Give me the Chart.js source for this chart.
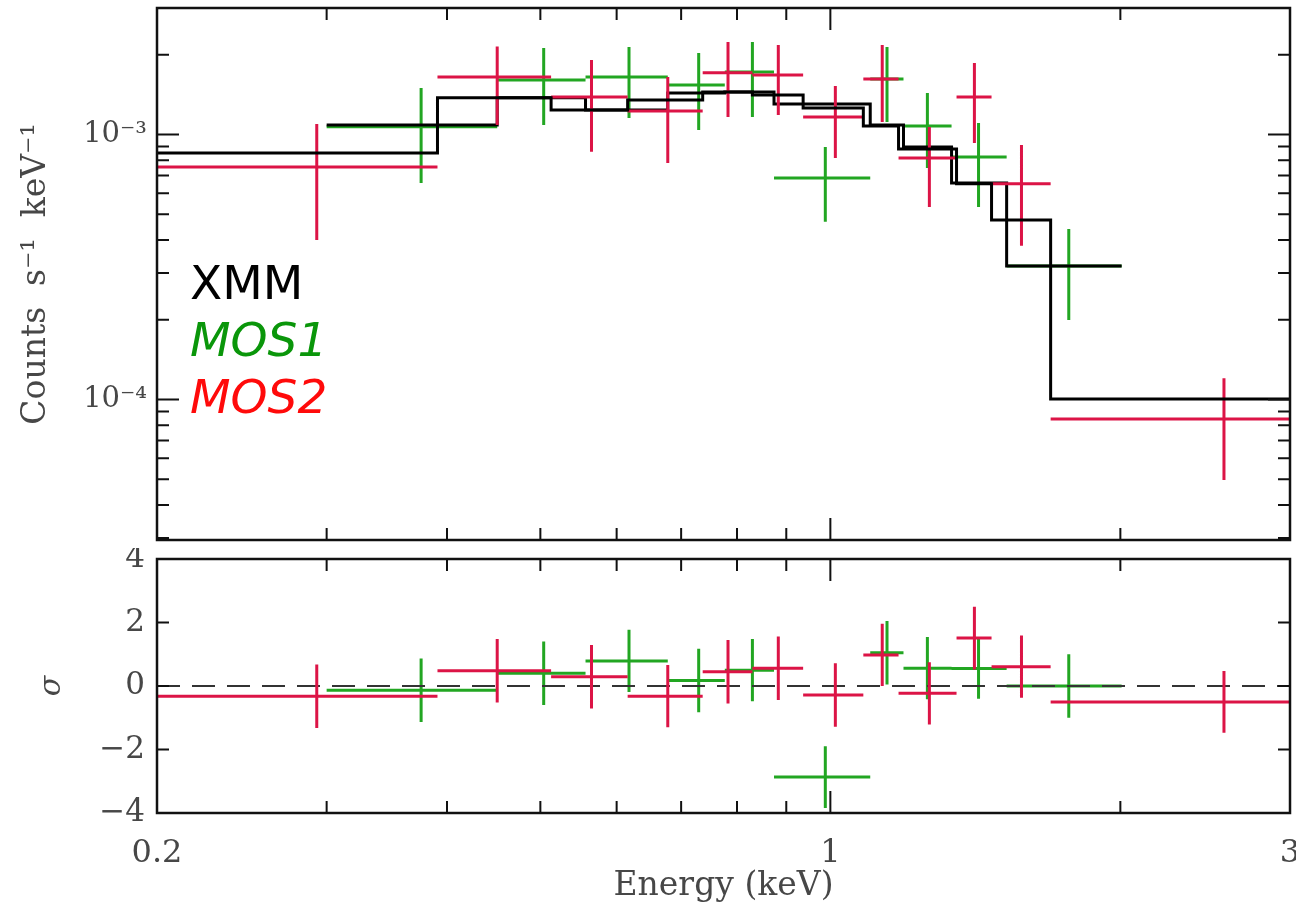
<!DOCTYPE html>
<html lang="en">
<head>
<meta charset="utf-8">
<title>XMM MOS1 / MOS2 spectrum</title>
<script src="https://cdn.jsdelivr.net/npm/chart.js@4.4.1/dist/chart.umd.min.js"></script>
<style>
  html, body { margin: 0; padding: 0; background: #fff; overflow: hidden; }
  #wrap { position: relative; width: 1296px; height: 918px; overflow: hidden; }
  #specChart { position: absolute; left: 0; top: 0; }
  #residChart { position: absolute; left: 0; top: 548px; }
</style>
</head>
<body>
<div id="wrap">
  <canvas id="specChart" width="1296" height="548"></canvas>
  <canvas id="residChart" width="1296" height="370"></canvas>
</div>
<script>
// MOS2 (red): bin edges, bin centre (keV), counts s^-1 keV^-1 with error range
const mos2Lo = [0.200, 0.391, 0.513, 0.616, 0.737, 0.830, 0.937, 1.082, 1.177, 1.352, 1.470, 1.693];
const mos2Hi = [0.391, 0.513, 0.616, 0.737, 0.830, 0.937, 1.082, 1.177, 1.352, 1.470, 1.693, 3.43];
const mos2E = [0.293, 0.451, 0.565, 0.678, 0.783, 0.883, 1.012, 1.132, 1.267, 1.411, 1.579, 2.562];
const mos2Flux = [7.54e-4, 1.648e-3, 1.385e-3, 1.226e-3, 1.711e-3, 1.677e-3, 1.164e-3, 1.620e-3, 8.15e-4, 1.385e-3, 6.51e-4, 8.44e-5];
const mos2FluxLo = [4.0e-4, 1.086e-3, 8.61e-4, 7.81e-4, 1.164e-3, 1.185e-3, 8.15e-4, 1.115e-3, 5.32e-4, 9.29e-4, 3.80e-4, 4.97e-5];
const mos2FluxHi = [1.095e-3, 2.145e-3, 1.910e-3, 1.648e-3, 2.234e-3, 2.177e-3, 1.524e-3, 2.177e-3, 1.067e-3, 1.861e-3, 9.13e-4, 1.202e-4];
const mos2Model = [8.51e-4, 1.376e-3, 1.237e-3, 1.350e-3, 1.447e-3, 1.410e-3, 1.259e-3, 1.077e-3, 8.82e-4, 6.51e-4, 4.76e-4, 1.004e-4];
const mos2Sigma = [-0.32, 0.48, 0.29, -0.32, 0.45, 0.56, -0.28, 0.98, -0.23, 1.51, 0.61, -0.50];
const mos2SigmaErr = [1.0, 1.0, 1.0, 0.98, 1.0, 1.0, 1.0, 0.98, 0.98, 0.99, 0.98, 0.97];

// MOS1 (green)
const mos1Lo = [0.300, 0.451, 0.557, 0.678, 0.777, 0.874, 1.100, 1.191, 1.336, 1.524];
const mos1Hi = [0.451, 0.557, 0.678, 0.777, 0.874, 1.100, 1.191, 1.336, 1.524, 2.006];
const mos1E = [0.376, 0.504, 0.618, 0.730, 0.830, 0.988, 1.145, 1.261, 1.425, 1.768];
const mos1Flux = [1.07e-3, 1.606e-3, 1.648e-3, 1.537e-3, 1.721e-3, 6.85e-4, 1.620e-3, 1.077e-3, 8.22e-4, 3.19e-4];
const mos1FluxLo = [6.56e-4, 1.086e-3, 1.154e-3, 1.040e-3, 1.164e-3, 4.68e-4, 1.115e-3, 7.47e-4, 5.32e-4, 1.995e-4];
const mos1FluxHi = [1.498e-3, 2.121e-3, 2.139e-3, 2.030e-3, 2.234e-3, 8.97e-4, 2.139e-3, 1.434e-3, 1.105e-3, 4.40e-4];
const mos1Model = [1.086e-3, 1.376e-3, 1.237e-3, 1.434e-3, 1.447e-3, 1.304e-3, 1.086e-3, 8.97e-4, 6.56e-4, 3.19e-4];
const mos1Sigma = [-0.13, 0.40, 0.79, 0.17, 0.50, -2.87, 1.05, 0.56, 0.55, 0.00];
const mos1SigmaErr = [1.0, 1.0, 0.98, 1.0, 0.98, 0.97, 1.0, 0.98, 0.95, 1.0];

// axes and ticks
const energyMin = 0.2;
const energyMax = 3;
const fluxMin = 2.95e-5;
const fluxMax = 3.0e-3;
const sigmaMin = -4;
const sigmaMax = 4;
const xLabelVals = [0.2, 1, 3];
const xLabelText = ["0.2", "1", "3"];
const xMinorTicks = [0.3, 0.4, 0.5, 0.6, 0.7, 0.8, 0.9, 2];
const xMajorTicks = [1];
const fluxLabelVals = [1e-4, 1e-3];
const fluxLabelText = ["10\u207B\u2074", "10\u207B\u00B3"];
const fluxMinorTicks = [3e-5, 4e-5, 5e-5, 6e-5, 7e-5, 8e-5, 9e-5, 2e-4, 3e-4, 4e-4, 5e-4, 6e-4, 7e-4, 8e-4, 9e-4, 2e-3, 3e-3];
const sigmaLabelVals = [-4, -2, 0, 2, 4];
const sigmaLabelText = ["\u22124", "\u22122", "0", "2", "4"];
const fluxTitle = "Counts  s\u207B\u00B9  keV\u207B\u00B9";

const legendLabels = ["XMM", "MOS1", "MOS2"];
const legendColors = ["#000000", "#0a960a", "#ff0a0a"];

const redColor = "#dc1446";
const greenColor = "#22a622";
const textGrey = "#474747";
const serif = "'DejaVu Serif', 'Liberation Serif', serif";

function crossPoints(lo, hi, mid, val, valLo, valHi) {
  const pts = [];
  mid.forEach((e, i) => {
    pts.push({ x: lo[i], y: val[i] }, { x: hi[i], y: val[i] }, { x: hi[i], y: null });
    pts.push({ x: e, y: valLo[i] }, { x: e, y: valHi[i] }, { x: e, y: null });
  });
  return pts;
}

function stepPoints(lo, hi, model) {
  const pts = lo.map((e, i) => ({ x: e, y: model[i] }));
  pts.push({ x: hi[hi.length - 1], y: model[model.length - 1] });
  return pts;
}

function lineSet(label, data, color, order, extra) {
  return Object.assign(
    {
      label: label,
      data: data,
      borderColor: color,
      borderWidth: 3,
      pointRadius: 0,
      fill: false,
      tension: 0,
      spanGaps: false,
      clip: 0,
      order: order,
    },
    extra || {}
  );
}

// frame with inward ticks on all four sides
const frameTicks = {
  id: "frameTicks",
  afterDraw(chart, args, opts) {
    const { ctx, chartArea: a, scales } = chart;
    ctx.save();
    ctx.strokeStyle = "#111";
    ctx.lineWidth = 2;
    ctx.beginPath();
    opts.xTicks.forEach((t) => {
      const px = scales.x.getPixelForValue(t.v);
      ctx.moveTo(px, a.top);
      ctx.lineTo(px, a.top + t.len);
      ctx.moveTo(px, a.bottom);
      ctx.lineTo(px, a.bottom - t.len);
    });
    opts.yTicks.forEach((t) => {
      const py = scales.y.getPixelForValue(t.v);
      ctx.moveTo(a.left, py);
      ctx.lineTo(a.left + t.len, py);
      ctx.moveTo(a.right, py);
      ctx.lineTo(a.right - t.len, py);
    });
    ctx.stroke();
    ctx.lineWidth = 2.5;
    ctx.strokeRect(a.left, a.top, a.right - a.left, a.bottom - a.top);
    ctx.restore();
  },
};

// legend words and the rotated y title of the upper panel
const legendText = {
  id: "legendText",
  afterDraw(chart) {
    const { ctx, chartArea: a } = chart;
    ctx.save();
    ctx.textBaseline = "alphabetic";
    ctx.textAlign = "left";
    legendLabels.forEach((lab, i) => {
      ctx.font = (i === 0 ? "" : "italic ") + "47px 'DejaVu Sans', sans-serif";
      ctx.fillStyle = legendColors[i];
      ctx.fillText(lab, a.left + 33, a.top + 291 + i * 57);
    });
    ctx.translate(36, (a.top + a.bottom) / 2);
    ctx.rotate(-Math.PI / 2);
    ctx.textAlign = "center";
    ctx.textBaseline = "middle";
    ctx.font = "33px " + serif;
    ctx.fillStyle = textGrey;
    ctx.fillText(fluxTitle, 0, 0);
    ctx.restore();
  },
};

function xTickList() {
  return xMinorTicks.map((v) => ({ v: v, len: 12 })).concat(xMajorTicks.map((v) => ({ v: v, len: 22 })));
}

const xAxisBase = {
  type: "logarithmic",
  min: energyMin,
  max: energyMax,
  grid: { display: false },
  border: { display: false },
};

const specChart = new Chart(document.getElementById("specChart"), {
  type: "line",
  data: {
    datasets: [
      lineSet("MOS2 model", stepPoints(mos2Lo, mos2Hi, mos2Model), "#000", 0, { stepped: "before" }),
      lineSet("MOS2", crossPoints(mos2Lo, mos2Hi, mos2E, mos2Flux, mos2FluxLo, mos2FluxHi), redColor, 1),
      lineSet("MOS1 model", stepPoints(mos1Lo, mos1Hi, mos1Model), "#000", 2, { stepped: "before" }),
      lineSet("MOS1", crossPoints(mos1Lo, mos1Hi, mos1E, mos1Flux, mos1FluxLo, mos1FluxHi), greenColor, 3),
    ],
  },
  options: {
    responsive: false,
    animation: false,
    events: [],
    layout: { padding: { top: 8, right: 6, left: 0, bottom: 0 } },
    plugins: {
      legend: { display: false },
      tooltip: { enabled: false },
      frameTicks: {
        xTicks: xTickList(),
        yTicks: fluxMinorTicks.map((v) => ({ v: v, len: 12 })).concat(fluxLabelVals.map((v) => ({ v: v, len: 22 }))),
      },
    },
    scales: {
      x: Object.assign({}, xAxisBase, {
        ticks: { display: false },
        afterFit: (s) => {
          s.height = 8;
          s.paddingLeft = 0;
          s.paddingRight = 0;
        },
      }),
      y: {
        type: "logarithmic",
        min: fluxMin,
        max: fluxMax,
        grid: { display: false, drawTicks: false },
        border: { display: false },
        afterBuildTicks: (axis) => {
          axis.ticks = fluxLabelVals.map((v) => ({ value: v }));
        },
        ticks: {
          autoSkip: false,
          padding: 10,
          color: textGrey,
          font: { family: serif, size: 29 },
          callback: (value, index) => fluxLabelText[index],
        },
        afterFit: (s) => {
          s.width = 157;
          s.paddingTop = 0;
          s.paddingBottom = 0;
        },
      },
    },
  },
  plugins: [frameTicks, legendText],
});

const residChart = new Chart(document.getElementById("residChart"), {
  type: "line",
  data: {
    datasets: [
      lineSet(
        "MOS2",
        crossPoints(
          mos2Lo,
          mos2Hi,
          mos2E,
          mos2Sigma,
          mos2Sigma.map((s, i) => s - mos2SigmaErr[i]),
          mos2Sigma.map((s, i) => s + mos2SigmaErr[i])
        ),
        redColor,
        0
      ),
      lineSet(
        "zero",
        [
          { x: energyMin, y: 0 },
          { x: energyMax, y: 0 },
        ],
        "#333",
        1,
        { borderWidth: 2, borderDash: [23, 12] }
      ),
      lineSet(
        "MOS1",
        crossPoints(
          mos1Lo,
          mos1Hi,
          mos1E,
          mos1Sigma,
          mos1Sigma.map((s, i) => s - mos1SigmaErr[i]),
          mos1Sigma.map((s, i) => s + mos1SigmaErr[i])
        ),
        greenColor,
        2
      ),
    ],
  },
  options: {
    responsive: false,
    animation: false,
    events: [],
    layout: { padding: { top: 11, right: 6, left: 0, bottom: 0 } },
    plugins: {
      legend: { display: false },
      tooltip: { enabled: false },
      frameTicks: {
        xTicks: xTickList(),
        yTicks: sigmaLabelVals.map((v) => ({ v: v, len: 12 })),
      },
    },
    scales: {
      x: Object.assign({}, xAxisBase, {
        afterBuildTicks: (axis) => {
          axis.ticks = xLabelVals.map((v) => ({ value: v }));
        },
        ticks: {
          autoSkip: false,
          maxRotation: 0,
          padding: 13,
          color: textGrey,
          font: { family: serif, size: 32 },
          callback: (value, index) => xLabelText[index],
        },
        title: {
          display: true,
          text: "Energy (keV)",
          color: textGrey,
          font: { family: serif, size: 33 },
          padding: { top: 0, bottom: 12 },
        },
        afterFit: (s) => {
          s.height = 105;
          s.paddingLeft = 0;
          s.paddingRight = 0;
        },
      }),
      y: {
        type: "linear",
        min: sigmaMin,
        max: sigmaMax,
        grid: { display: false, drawTicks: false },
        border: { display: false },
        afterBuildTicks: (axis) => {
          axis.ticks = sigmaLabelVals.map((v) => ({ value: v }));
        },
        ticks: {
          autoSkip: false,
          padding: 12,
          color: textGrey,
          font: { family: serif, size: 31 },
          callback: (value, index) => sigmaLabelText[index],
        },
        title: {
          display: true,
          text: "\u03C3",
          color: textGrey,
          font: { family: serif, size: 30, style: "italic" },
          padding: { top: 34, bottom: 0 },
        },
        afterFit: (s) => {
          s.width = 157;
          s.paddingTop = 0;
          s.paddingBottom = 0;
        },
      },
    },
  },
  plugins: [frameTicks],
});
</script>
</body>
</html>
